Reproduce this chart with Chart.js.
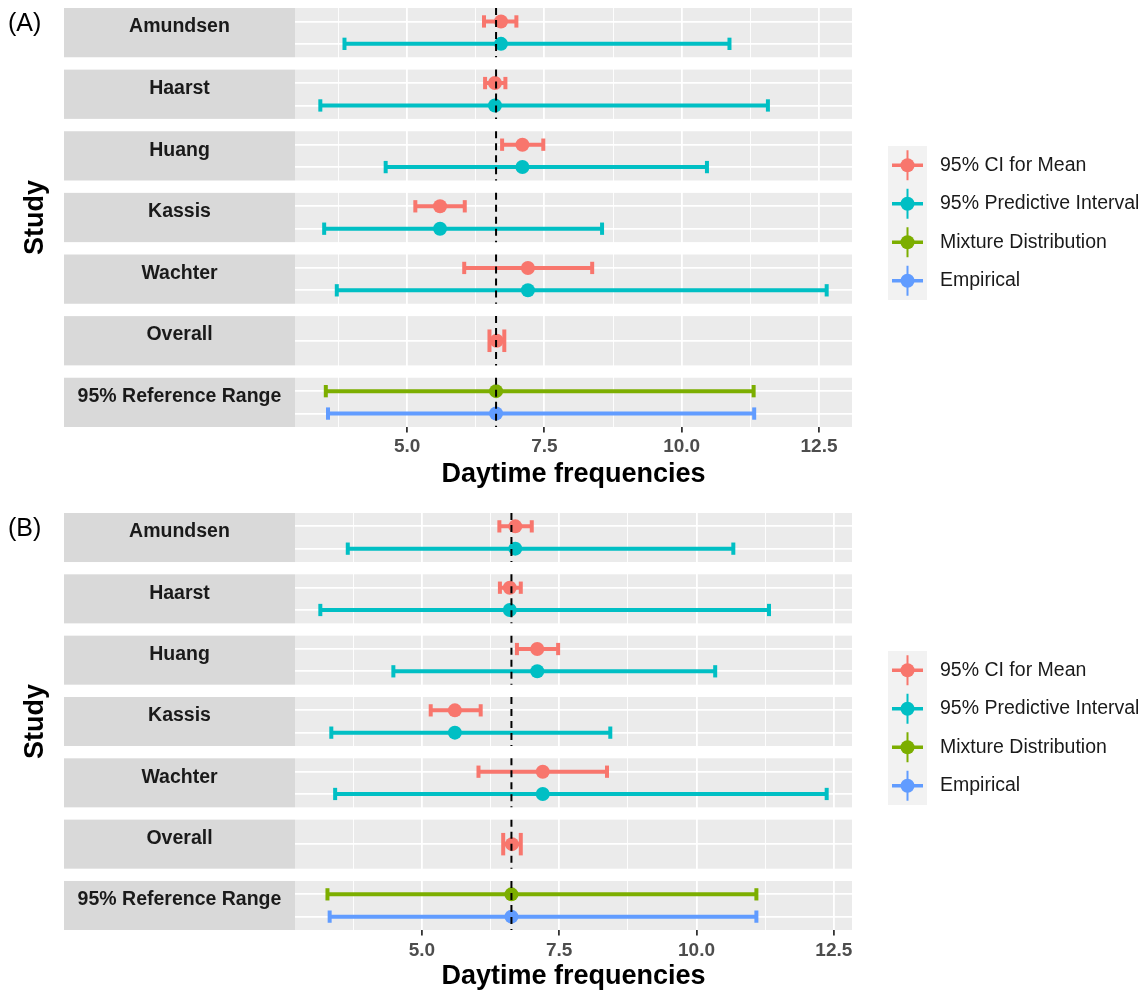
<!DOCTYPE html>
<html>
<head>
<meta charset="utf-8">
<script src="https://cdn.jsdelivr.net/npm/chart.js@4"></script>
<style>
  body { margin: 0; background: #fff; width: 1147px; height: 993px; overflow: hidden; position: relative; }
  canvas { position: absolute; left: 0; }
  #chartA { top: 0; }
  #chartB { top: 497px; }
</style>
</head>
<body>
<canvas id="chartA" width="1147" height="497"></canvas>
<canvas id="chartB" width="1147" height="496"></canvas>
<script>
// facet rows, top to bottom
const facetLabels = ['Amundsen', 'Haarst', 'Huang', 'Kassis', 'Wachter', 'Overall', '95% Reference Range'];
const studies = ['Amundsen', 'Haarst', 'Huang', 'Kassis', 'Wachter'];
const seriesNames = ['95% CI for Mean', '95% Predictive Interval', 'Mixture Distribution', 'Empirical'];
const seriesColors = ['#F8766D', '#00BFC4', '#7CAE00', '#619CFF'];
const xTicks = [5.0, 7.5, 10.0, 12.5];

// (A)
const aMean = [6.71, 6.60, 7.10, 5.60, 7.20];
const aCiLow = [6.40, 6.42, 6.73, 5.15, 6.04];
const aCiHigh = [6.99, 6.79, 7.48, 6.05, 8.37];
const aPiLow = [3.86, 3.42, 4.61, 3.49, 3.72];
const aPiHigh = [10.87, 11.57, 10.46, 8.55, 12.64];
const aOverall = [6.50, 6.63, 6.77];   // low, mean, high
const aMixture = [3.52, 6.62, 11.31];
const aEmpirical = [3.56, 6.62, 11.32];
const aRefLine = 6.62;

// (B)
const bMean = [6.70, 6.60, 7.10, 5.60, 7.20];
const bCiLow = [6.41, 6.42, 6.73, 5.16, 6.03];
const bCiHigh = [7.00, 6.80, 7.48, 6.07, 8.37];
const bPiLow = [3.65, 3.15, 4.48, 3.35, 3.42];
const bPiHigh = [10.67, 11.32, 10.34, 8.43, 12.37];
const bOverall = [6.48, 6.64, 6.80];
const bMixture = [3.28, 6.63, 11.09];
const bEmpirical = [3.32, 6.63, 11.09];
const bRefLine = 6.63;

const FONT = '"Liberation Sans", Arial, Helvetica, sans-serif';
Chart.defaults.font.family = FONT;

// y layout: each facet spans 2.2 units (two levels + 0.6 expansion), gap between facets
const SPAN = 2.2, GAP = 0.552, P = SPAN + GAP;
const YMAX = facetLabels.length * SPAN + (facetLabels.length - 1) * GAP;
const CAP = 0.275;
const upper = k => k * P + 0.6;
const lower = k => k * P + 1.6;
const middle = k => k * P + 1.1;
const brk = () => ({x: null, y: null});

function capRadius(c) {
  const y = c.chart.scales.y;
  if (!y || !c.raw || c.raw.y == null) return 0;
  const unit = Math.abs(y.getPixelForValue(1) - y.getPixelForValue(0));
  const single = Math.floor(c.raw.y / P) === 5;   // Overall facet has one level
  return CAP * unit * (single ? SPAN / 1.2 : 1);
}

function barSet(data, color) {
  return {
    type: 'line', data, order: 2,
    borderColor: color, borderWidth: 4, spanGaps: false,
    pointStyle: 'line', pointRotation: 90, pointRadius: capRadius,
    pointBorderColor: color, pointBorderWidth: 4, pointBackgroundColor: color
  };
}
function ptSet(data, color) {
  return {
    type: 'scatter', data, order: 1,
    pointRadius: 7, pointBorderWidth: 0, pointBackgroundColor: color, pointBorderColor: color
  };
}

const facetPlugin = {
  id: 'facets',
  beforeDraw(chart, args, opts) {
    const {ctx, chartArea: ca} = chart;
    const y = chart.scales.y;
    ctx.save();
    ctx.fillStyle = '#FFFFFF';
    ctx.fillRect(0, 0, chart.width, chart.height);
    facetLabels.forEach((lab, k) => {
      const t = y.getPixelForValue(k * P), b = y.getPixelForValue(k * P + SPAN);
      ctx.fillStyle = '#EBEBEB';
      ctx.fillRect(ca.left, t, ca.right - ca.left, b - t);
      ctx.fillStyle = '#D9D9D9';
      ctx.fillRect(64, t, ca.left - 64, b - t);
      ctx.fillStyle = '#1A1A1A';
      ctx.font = 'bold 19.5px ' + FONT;
      ctx.textAlign = 'center';
      ctx.textBaseline = 'middle';
      ctx.fillText(lab, (64 + ca.left) / 2, t + 19);
    });
    // panel tag
    ctx.fillStyle = '#000';
    ctx.font = '25px ' + FONT;
    ctx.textAlign = 'left';
    ctx.fillText(opts.tag, 8, ca.top + 16);
    // y title
    ctx.save();
    ctx.translate(36, (ca.top + ca.bottom) / 2);
    ctx.rotate(-Math.PI / 2);
    ctx.font = 'bold 27px ' + FONT;
    ctx.textAlign = 'center';
    ctx.fillText('Study', 0, 0);
    ctx.restore();
    // legend
    const lt = ca.top + 138, kh = 38.5, kx = 888, kw = 39;
    ctx.fillStyle = '#F2F2F2';
    ctx.fillRect(kx, lt, kw, kh * seriesNames.length);
    seriesNames.forEach((name, i) => {
      const cy = lt + kh * i + kh / 2, cx = kx + kw / 2;
      ctx.strokeStyle = seriesColors[i];
      ctx.lineWidth = 3.5;
      ctx.beginPath(); ctx.moveTo(kx + 4, cy); ctx.lineTo(kx + kw - 4, cy); ctx.stroke();
      ctx.lineWidth = 2;
      ctx.beginPath(); ctx.moveTo(cx, cy - 15); ctx.lineTo(cx, cy + 15); ctx.stroke();
      ctx.fillStyle = seriesColors[i];
      ctx.beginPath(); ctx.arc(cx, cy, 7, 0, Math.PI * 2); ctx.fill();
      ctx.fillStyle = '#1A1A1A';
      ctx.font = '19.5px ' + FONT;
      ctx.textAlign = 'left';
      ctx.fillText(name, 940, cy);
    });
    ctx.restore();
  }
};

function makePanel(id, d) {
  const ciBars = [], ciPts = [], piBars = [], piPts = [];
  studies.forEach((s, k) => {
    ciBars.push({x: d.ciLow[k], y: upper(k)}, {x: d.ciHigh[k], y: upper(k)}, brk());
    ciPts.push({x: d.mean[k], y: upper(k)});
    piBars.push({x: d.piLow[k], y: lower(k)}, {x: d.piHigh[k], y: lower(k)}, brk());
    piPts.push({x: d.mean[k], y: lower(k)});
  });
  ciBars.push({x: d.overall[0], y: middle(5)}, {x: d.overall[2], y: middle(5)});
  ciPts.push({x: d.overall[1], y: middle(5)});
  const mixBars = [{x: d.mixture[0], y: upper(6)}, {x: d.mixture[2], y: upper(6)}];
  const empBars = [{x: d.empirical[0], y: lower(6)}, {x: d.empirical[2], y: lower(6)}];

  const vline = [];
  facetLabels.forEach((f, k) => { vline.push({x: d.ref, y: k * P}, {x: d.ref, y: k * P + SPAN}, brk()); });

  const all = [].concat(d.ciLow, d.ciHigh, d.piLow, d.piHigh, d.overall, d.mixture, d.empirical);
  const lo = Math.min(...all), hi = Math.max(...all), pad = (hi - lo) * 0.05;

  const levels = [];
  facetLabels.forEach((f, k) => { if (k === 5) levels.push(middle(k)); else levels.push(upper(k), lower(k)); });

  const minor = xTicks.map(v => v - 1.25);

  return new Chart(document.getElementById(id), {
    data: {
      datasets: [
        {type: 'line', data: vline, order: 0, borderColor: '#000', borderWidth: 2, borderDash: [7, 5], pointRadius: 0, spanGaps: false},
        ptSet(ciPts, seriesColors[0]),
        ptSet(piPts, seriesColors[1]),
        ptSet([{x: d.mixture[1], y: upper(6)}], seriesColors[2]),
        ptSet([{x: d.empirical[1], y: lower(6)}], seriesColors[3]),
        barSet(ciBars, seriesColors[0]),
        barSet(piBars, seriesColors[1]),
        barSet(mixBars, seriesColors[2]),
        barSet(empBars, seriesColors[3])
      ]
    },
    options: {
      responsive: false, animation: false, events: [],
      layout: {padding: {left: 295, right: 295, top: d.top, bottom: 0}},
      plugins: {legend: {display: false}, tooltip: {enabled: false}, facets: {tag: d.tag}},
      scales: {
        x: {
          type: 'linear', min: lo - pad, max: hi + pad,
          afterBuildTicks: s => { s.ticks = minor.concat(xTicks).sort((a, b) => a - b).map(v => ({value: v})); },
          afterFit: s => { s.height = d.axisH; },
          border: {display: false},
          grid: {
            color: '#FFFFFF',
            lineWidth: c => (c.tick && xTicks.includes(c.tick.value) ? 1.8 : 0.9),
            tickColor: c => (c.tick && xTicks.includes(c.tick.value) ? '#333333' : 'rgba(0,0,0,0)'),
            tickWidth: 1.8, tickLength: 5.5
          },
          ticks: {
            autoSkip: false, maxRotation: 0, padding: d.tickPad, color: '#4D4D4D',
            font: {size: 19, weight: 'bold'},
            callback: v => (xTicks.includes(v) ? v.toFixed(1) : '')
          },
          title: {display: true, text: 'Daytime frequencies', color: '#000', font: {size: 27, weight: 'bold'},
                  padding: {top: 0, bottom: d.titlePad}}
        },
        y: {
          type: 'linear', reverse: true, min: 0, max: YMAX,
          afterBuildTicks: s => { s.ticks = levels.map(v => ({value: v})); },
          afterFit: s => { s.width = 0; },
          border: {display: false},
          grid: {color: '#FFFFFF', lineWidth: 1.8, drawTicks: false},
          ticks: {display: false}
        }
      }
    },
    plugins: [facetPlugin]
  });
}

makePanel('chartA', {
  tag: '(A)', top: 8, axisH: 70, tickPad: 3, titlePad: 6,
  mean: aMean, ciLow: aCiLow, ciHigh: aCiHigh, piLow: aPiLow, piHigh: aPiHigh,
  overall: aOverall, mixture: aMixture, empirical: aEmpirical, ref: aRefLine
});
makePanel('chartB', {
  tag: '(B)', top: 16, axisH: 63, tickPad: 4, titlePad: 0,
  mean: bMean, ciLow: bCiLow, ciHigh: bCiHigh, piLow: bPiLow, piHigh: bPiHigh,
  overall: bOverall, mixture: bMixture, empirical: bEmpirical, ref: bRefLine
});
</script>
</body>
</html>
